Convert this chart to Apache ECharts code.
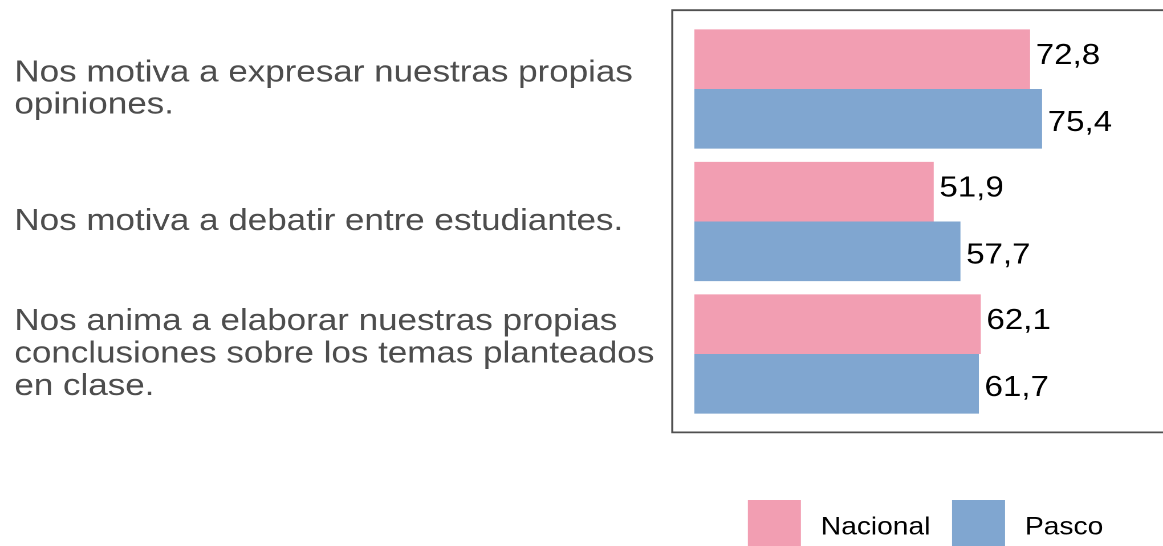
<!DOCTYPE html>
<html>
<head>
<meta charset="utf-8">
<script src="https://cdn.jsdelivr.net/npm/echarts@6/dist/echarts.min.js"></script>
<style>
  html, body { margin: 0; padding: 0; background: #fff; overflow: hidden; }
  #wrap { width: 1163px; height: 546px; overflow: hidden; }
  /* chart laid out at 1020px and widened to the page width */
  #chart { width: 1020px; height: 546px; transform: scaleX(1.1402); transform-origin: 0 0; }
</style>
</head>
<body>
<div id="wrap"><div id="chart"></div></div>
<script>
// Categories (top to bottom) and percentages per group
const categories = [
  'Nos motiva a expresar nuestras propias\nopiniones.',
  'Nos motiva a debatir entre estudiantes.',
  'Nos anima a elaborar nuestras propias\nconclusiones sobre los temas planteados\nen clase.'
];
const seriesNames = ['Nacional', 'Pasco'];
const nacional = [72.8, 51.9, 62.1];
const pasco = [75.4, 57.7, 61.7];

const FONT = "'Liberation Sans', Arial, Helvetica, sans-serif";
const colors = { Nacional: '#F29EB2', Pasco: '#80A6D0' };

const fmt = p => String(p.value).replace('.', ',');

const chart = echarts.init(document.getElementById('chart'), null, { renderer: 'canvas', devicePixelRatio: 2 });

chart.setOption({
  animation: false,
  backgroundColor: '#ffffff',
  textStyle: { fontFamily: FONT },
  grid: [
    // bar area
    { left: 609, top: 22.75, width: 404.4, height: 397.5, containLabel: false, outerBoundsMode: 'none' },
    // panel frame
    { left: 589.6, top: 10.2, right: -20, bottom: 113.6, show: true, borderColor: '#505050', borderWidth: 1.8,
      backgroundColor: 'transparent', containLabel: false, outerBoundsMode: 'none' }
  ],
  xAxis: [
    { gridIndex: 0, type: 'value', min: 0, max: 100, show: false },
    { gridIndex: 1, type: 'value', show: false }
  ],
  yAxis: [
    {
      gridIndex: 0, type: 'category', data: categories, inverse: true,
      axisLine: { show: false }, axisTick: { show: false }, splitLine: { show: false },
      axisLabel: {
        interval: 0, align: 'left', margin: 596.4,
        fontFamily: FONT, fontSize: 30.7, lineHeight: 32.4, color: '#4d4d4d'
      }
    },
    { gridIndex: 1, type: 'category', show: false }
  ],
  legend: {
    data: seriesNames,
    left: 655.9, top: 500, orient: 'horizontal', padding: 0,
    icon: 'rect', itemWidth: 46.5, itemHeight: 55, itemGap: 19,
    textStyle: { fontFamily: FONT, fontSize: 24.7, color: '#000000', padding: [0, 0, 0, 12.5] }
  },
  series: [
    {
      name: 'Nacional', type: 'bar', xAxisIndex: 0, yAxisIndex: 0,
      data: nacional, barGap: '0%', barCategoryGap: '10%',
      itemStyle: { color: colors.Nacional },
      label: { show: true, position: 'right', distance: 5, offset: [0, -3],
               formatter: fmt, fontFamily: FONT, fontSize: 29, color: '#000000' }
    },
    {
      name: 'Pasco', type: 'bar', xAxisIndex: 0, yAxisIndex: 0,
      data: pasco, barGap: '0%', barCategoryGap: '10%',
      itemStyle: { color: colors.Pasco },
      label: { show: true, position: 'right', distance: 5, offset: [0, 4],
               formatter: fmt, fontFamily: FONT, fontSize: 29, color: '#000000' }
    }
  ]
});
</script>
</body>
</html>
